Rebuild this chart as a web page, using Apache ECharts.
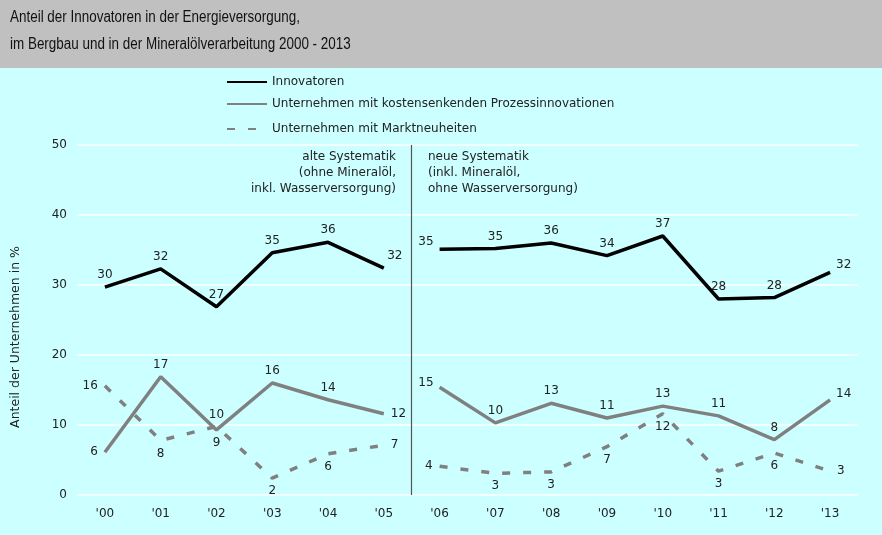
<!DOCTYPE html>
<html>
<head>
<meta charset="utf-8">
<script src="https://cdn.jsdelivr.net/npm/echarts@6/dist/echarts.min.js"></script>
<style>
html,body{margin:0;padding:0;background:#ccffff;}
#chart{width:882px;height:535px;}
</style>
</head>
<body>
<div id="chart"></div>
<script>
// ---- data ----
const categories = ["'00","'01","'02","'03","'04","'05","'06","'07","'08","'09","'10","'11","'12","'13"];
const innovatoren = [29.7, 32.3, 26.9, 34.6, 36.1, 32.4, 35.1, 35.2, 36.0, 34.2, 37.0, 28.0, 28.2, 31.8];
const prozess     = [6.1, 16.9, 9.3, 16.0, 13.6, 11.6, 15.4, 10.3, 13.1, 11.0, 12.7, 11.3, 7.9, 13.6];
const markt       = [15.6, 7.8, 9.8, 2.4, 5.9, 7.1, 4.1, 3.1, 3.3, 6.9, 11.6, 3.4, 6.0, 3.4];
const lastOldIndex = 5; // '05 = last year of old classification
const seriesNames = ['Innovatoren', 'Unternehmen mit kostensenkenden Prozessinnovationen', 'Unternehmen mit Marktneuheiten'];
const yTicks = {min: 0, max: 50, interval: 10};
const oldNote = 'alte Systematik\n(ohne Mineralöl,\ninkl. Wasserversorgung)';
const newNote = 'neue Systematik\n(inkl. Mineralöl,\nohne Wasserversorgung)';
const yName = 'Anteil der Unternehmen in %';
const titleLines = ['Anteil der Innovatoren in der Energieversorgung,', 'im Bergbau und in der Mineralölverarbeitung 2000 - 2013'];

// ---- label placement (style) ----
const posInnov = ['t','t','t','t','t','tr','tl','t','t','t','t','t','t','rr'];
const posProz  = ['l','t','b','t','t','r','lu','t','t','t','t','t','t','rr2'];
const posMarkt = ['l','b','t','b','b','r','l','b','b','b','b','b','b','r'];

const FONT = 'DejaVu Sans, Verdana, sans-serif';

function labelFor(code){
  const base = {show:true, color:'#222', fontSize:12, fontFamily:FONT, distance:5};
  switch(code){
    case 't': return Object.assign(base,{position:'top'});
    case 'b': return Object.assign(base,{position:'bottom', distance:6});
    case 'l': return Object.assign(base,{position:'left', distance:6});
    case 'r': return Object.assign(base,{position:'right', distance:6});
    case 'tr': return Object.assign(base,{position:'top', offset:[11,0]});
    case 'tl': return Object.assign(base,{position:'left', offset:[0,-7]});
    case 'lu': return Object.assign(base,{position:'left', offset:[0,-4]});
    case 'rr': return Object.assign(base,{position:'right', offset:[0,-8]});
    case 'rr2': return Object.assign(base,{position:'right', offset:[0,-6]});
  }
  return base;
}

function segment(values, pos, fromIdx, toIdx){
  return values.map((v,i)=> (i>=fromIdx && i<=toIdx) ? {value:v, label:labelFor(pos[i])} : null);
}

function makeSeries(name, values, pos, lineStyle){
  const common = {
    name, type:'line', xAxisIndex:0, yAxisIndex:0,
    symbol:'circle', symbolSize:2, showSymbol:true,
    itemStyle:{color:'transparent'},
    lineStyle, connectNulls:false, animation:false,
    label:{formatter: p => Math.round(p.value)},
    emphasis:{disabled:true}
  };
  return [
    Object.assign({}, common, {data: segment(values, pos, 0, lastOldIndex)}),
    Object.assign({}, common, {data: segment(values, pos, lastOldIndex+1, values.length-1)})
  ];
}

const series = [].concat(
  makeSeries(seriesNames[0], innovatoren, posInnov, {color:'#000000', width:3.5}),
  makeSeries(seriesNames[1], prozess, posProz, {color:'#808080', width:3.5}),
  makeSeries(seriesNames[2], markt, posMarkt, {color:'#808080', width:3.5, type:[8,13]})
);

// separator between the two classifications
series.push({
  type:'line', xAxisIndex:1, yAxisIndex:0, data:[], silent:true, animation:false,
  markLine:{
    symbol:'none', silent:true, animation:false,
    label:{show:false},
    lineStyle:{color:'#555555', width:1.2, type:'solid'},
    data:[{xAxis: lastOldIndex + 0.5}]
  }
});

const chart = echarts.init(document.getElementById('chart'), null, {renderer:'canvas'});
const legendBase = {
  orient:'vertical', left:221, itemWidth:40, itemHeight:14,
  textStyle:{fontFamily:FONT, fontSize:12, color:'#222'},
  selectedMode:false
};
const TITLE_FONT = '16px Liberation Sans, Arial, sans-serif';
chart.setOption({
  backgroundColor:'#ccffff',
  animation:false,
  graphic:[
    {type:'rect', z:-10, left:0, top:0, shape:{width:882, height:68}, style:{fill:'#c0c0c0'}, silent:true},
    {type:'text', x:10, y:18, scaleX:0.84, style:{text:titleLines[0], font:TITLE_FONT, fill:'#111', verticalAlign:'middle'}},
    {type:'text', x:10, y:45, scaleX:0.84, style:{text:titleLines[1], font:TITLE_FONT, fill:'#111', verticalAlign:'middle'}},
    {type:'text', x:396, y:149, style:{text:oldNote, font:'12px '+FONT, fill:'#222', lineHeight:16, align:'right'}},
    {type:'text', x:428, y:149, style:{text:newNote, font:'12px '+FONT, fill:'#222', lineHeight:16, align:'left'}}
  ],
  legend:[
    Object.assign({}, legendBase, {top:71, data:[seriesNames[0]]}),
    Object.assign({}, legendBase, {top:93, data:[seriesNames[1]]}),
    Object.assign({}, legendBase, {top:118, data:[seriesNames[2]]})
  ],
  grid:{left:77, right:24, top:145, bottom:40, containLabel:false, outerBoundsMode:'none'},
  xAxis:[
    {type:'category', data:categories, boundaryGap:true,
     axisLine:{show:false}, axisTick:{show:false},
     axisLabel:{fontFamily:FONT, fontSize:12, color:'#222', margin:13}},
    {type:'value', min:-0.5, max:categories.length-0.5, show:false}
  ],
  yAxis:{
    type:'value', min:yTicks.min, max:yTicks.max, interval:yTicks.interval,
    name:yName, nameLocation:'middle', nameGap:55,
    nameTextStyle:{fontFamily:FONT, fontSize:12.5, color:'#222', padding:[0,34,0,0]},
    axisLine:{show:false}, axisTick:{show:false},
    axisLabel:{fontFamily:FONT, fontSize:12, color:'#222', margin:10},
    splitLine:{lineStyle:{color:'#ffffff', width:1.5}}
  },
  series
});
</script>
</body>
</html>
